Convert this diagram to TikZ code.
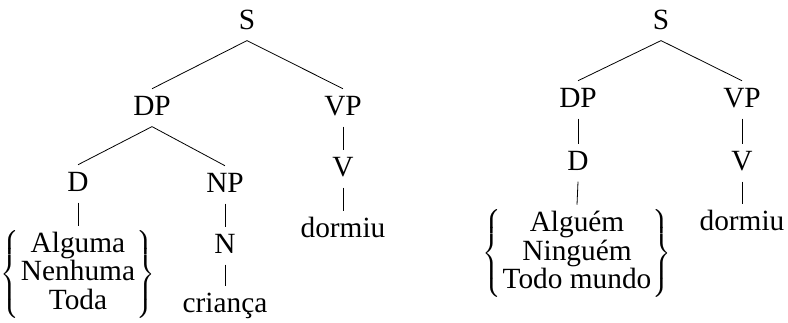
\documentclass[tikz,border=0pt]{standalone}
\usepackage{graphicx}
\usepackage{amsmath}
\usepackage{fontspec}
\setmainfont{Liberation Serif}
\newcommand{\bigbrace}[1]{\vcenter{\hbox{\resizebox*{!}{67.5pt}{$\nulldelimiterspace=0pt\left#1\vrule height 40pt depth 40pt width 0pt\right.$}}}}
\newcommand{\bracegroup}[1]{$\bigbrace\{\begin{tabular}{@{\hspace{1pt}}c@{\hspace{1pt}}}#1\end{tabular}\bigbrace\}$}
\begin{document}
\begin{tikzpicture}[x=0.75pt,y=-0.75pt,
  lab/.style={anchor=base, inner sep=0pt, text height=19.5pt, text depth=8.5pt, font=\fontsize{22}{21.5}\selectfont},
  grp/.style={inner sep=0pt, font=\fontsize{22}{21}\selectfont},
  branch/.style={line width=0.6pt}]
\useasboundingbox (0,0) rectangle (788,322);
% left tree
\node[lab] (S) at (247,29) {S};
\node[lab] (DP) at (152,115) {DP};
\node[lab] (VP) at (343,115) {VP};
\node[lab] (D) at (78,191) {D};
\node[lab] (NP) at (225,192) {NP};
\node[lab] (V) at (343,176) {V};
\node[lab] (dorm) at (343,237) {dormiu};
\node[lab] (N) at (225,253) {N};
\node[lab] (crianca) at (225,312) {criança};
\node[grp] (G) at (78,275) {\bracegroup{Alguma\\Nenhuma\\Toda}};
\draw[branch] (S.south) -- (DP.north);
\draw[branch] (S.south) -- (VP.north);
\draw[branch] (DP.south) -- (D.north);
\draw[branch] (DP.south) -- (NP.north);
\draw[branch] (VP.south) -- (V.north);
\draw[branch] (V.south) -- (dorm.north);
\draw[branch] (NP.south) -- (N.north);
\draw[branch] (N.south) -- (crianca.north);
\draw[branch] (D.south) -- ([yshift=3pt]G.north);
% right tree
\node[lab] (S2) at (661,29) {S};
\node[lab] (DP2) at (578,107) {DP};
\node[lab] (VP2) at (742,107) {VP};
\node[lab] (D2) at (578,170) {D};
\node[lab] (V2) at (742,170) {V};
\node[lab] (dorm2) at (742,230) {dormiu};
\node[grp] (G2) at (577,254) {\bracegroup{Alguém\\Ninguém\\Todo mundo}};
\draw[branch] (S2.south) -- (DP2.north);
\draw[branch] (S2.south) -- (VP2.north);
\draw[branch] (DP2.south) -- (D2.north);
\draw[branch] (VP2.south) -- (V2.north);
\draw[branch] (V2.south) -- (dorm2.north);
\draw[branch] (D2.south) -- ([yshift=3pt]G2.north);
\end{tikzpicture}
\end{document}
